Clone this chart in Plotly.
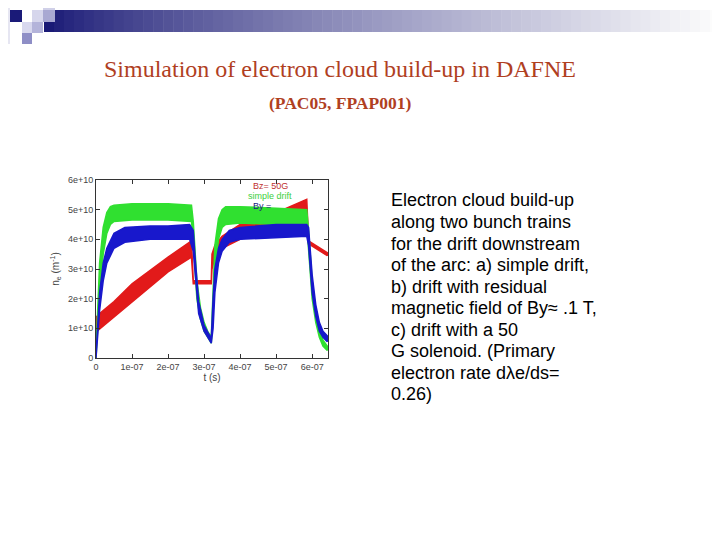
import plotly.graph_objects as go

# ---------------- data (t in units of 1e-7 s, n_e in units of 1e10 m^-1) ----------------
t_green = [0, 0.05, 0.1, 0.2, 0.3, 0.4, 0.5, 1.0, 2.0, 2.65, 2.7, 2.8, 2.9, 3.0, 3.1, 3.2,
           3.25, 3.3, 3.4, 3.5, 3.6, 4.0, 5.0, 5.85, 5.9, 6.0, 6.1, 6.2, 6.3, 6.42]
green_lo = [0, 1.2, 2.2, 3.5, 4.2, 4.5, 4.6, 4.65, 4.65, 4.6, 4.0, 2.0, 1.3, 0.9, 0.7, 0.5,
            1.5, 3.0, 4.0, 4.4, 4.5, 4.55, 4.5, 4.5, 3.5, 2.0, 1.2, 0.7, 0.4, 0.25]
green_hi = [0.2, 2.0, 3.2, 4.4, 4.9, 5.1, 5.15, 5.2, 5.2, 5.15, 4.6, 2.6, 1.7, 1.2, 0.9, 0.7,
            2.5, 3.8, 4.7, 5.0, 5.1, 5.1, 5.05, 5.0, 4.3, 2.6, 1.6, 1.0, 0.6, 0.4]

t_blue = [0, 0.05, 0.1, 0.2, 0.3, 0.5, 0.8, 1.5, 2.0, 2.6, 2.7, 2.75, 2.85, 3.0, 3.1, 3.2,
          3.25, 3.3, 3.4, 3.5, 3.7, 4.0, 5.0, 5.85, 5.9, 6.0, 6.1, 6.2, 6.3, 6.42]
blue_lo = [0, 0.8, 1.6, 2.6, 3.2, 3.7, 3.9, 4.0, 4.0, 4.0, 3.6, 2.8, 1.5, 0.9, 0.7, 0.5,
           1.0, 2.2, 3.2, 3.6, 3.9, 4.0, 4.05, 4.1, 3.8, 2.2, 1.4, 0.9, 0.7, 0.55]
blue_hi = [0.1, 1.3, 2.2, 3.2, 3.7, 4.2, 4.4, 4.45, 4.45, 4.5, 4.3, 3.4, 1.9, 1.1, 0.85, 0.65,
           2.0, 3.0, 3.7, 4.0, 4.3, 4.4, 4.5, 4.5, 4.4, 2.8, 1.8, 1.2, 0.9, 0.75]

t_red = [0, 0.02, 0.1, 0.5, 1.0, 2.0, 2.65, 2.7, 3.2, 3.22, 3.3, 3.5, 4.0, 5.0, 5.85, 5.9, 6.42]
red_lo = [0, 0.9, 1.0, 1.4, 1.9, 2.9, 3.4, 2.5, 2.5, 3.0, 3.4, 3.7, 4.0, 4.4, 4.8, 3.85, 3.45]
red_hi = [0.1, 1.4, 1.5, 1.9, 2.5, 3.4, 3.95, 2.6, 2.6, 3.5, 3.8, 4.1, 4.5, 4.9, 5.35, 3.95, 3.55]

x_tickvals = [0, 1, 2, 3, 4, 5, 6]
x_ticktext = ["0", "1e-07", "2e-07", "3e-07", "4e-07", "5e-07", "6e-07"]
y_tickvals = [0, 1, 2, 3, 4, 5, 6]
y_ticktext = ["0", "1e+10", "2e+10", "3e+10", "4e+10", "5e+10", "6e+10"]

series = [
    ("Bz= 50G", t_red, red_lo, red_hi, "#e21a1a"),
    ("simple drift", t_green, green_lo, green_hi, "#30e030"),
    ("By", t_blue, blue_lo, blue_hi, "#1818cc"),
]

title_text = "Simulation of electron cloud build-up in DAFNE"
subtitle_text = "(PAC05, FPAP001)"
body_lines = [
    "Electron cloud build-up",
    "along two bunch trains",
    "for the drift downstream",
    "of the arc: a) simple drift,",
    "b) drift with residual",
    "magnetic field of By\u2248 .1 T,",
    "c) drift with a 50",
    "G solenoid. (Primary",
    "electron rate d\u03bbe/ds=",
    "0.26)",
]

fig = go.Figure()
for name, t, lo, hi, col in series:
    fig.add_trace(go.Scatter(
        x=list(t) + list(t)[::-1], y=list(hi) + list(lo)[::-1],
        fill="toself", fillcolor=col, mode="lines",
        line=dict(color=col, width=1.5), name=name, showlegend=False,
        hoverinfo="skip"))

W, H = 720, 540
OFF = 8  # page body margin offset
def px(x): return (x - OFF) / W
def py(y): return 1 - (y - OFF) / H

# ---------------- slide decoration ----------------
shapes = []
x0, x1 = 44, 720
n = 68
for i in range(n):
    a = x0 + (x1 - x0) * i / n
    b = x0 + (x1 - x0) * (i + 1) / n + 0.5
    f = (i / (n - 1)) ** 0.8
    r = int(26 + (252 - 26) * f)
    g = int(26 + (252 - 26) * f)
    bb = int(118 + (252 - 118) * f)
    shapes.append(dict(type="rect", xref="paper", yref="paper",
                       x0=px(a), x1=px(b), y0=py(32), y1=py(10),
                       fillcolor=f"rgb({r},{g},{bb})", line=dict(width=0), layer="below"))
squares = [
    (0, 0, 10, 44, "#e6e6f2"),
    (10, 10, 22, 22, "#1a1a78"),
    (32, 10, 43, 22, "#d6d6ec"),
    (43, 0, 55, 10, "#d0d0e8"),
    (43, 10, 55, 22, "#a8a8d2"),
    (22, 22, 32, 33, "#d8d8ee"),
    (32, 22, 43, 33, "#b4b4da"),
    (22, 33, 32, 44, "#8e8ec6"),
]
for a, b, c, d, col in squares:
    shapes.append(dict(type="rect", xref="paper", yref="paper",
                       x0=px(a), x1=px(c), y0=py(d), y1=py(b),
                       fillcolor=col, line=dict(width=0), layer="below"))

annotations = [
    dict(text=title_text, x=px(340), y=py(69), xref="paper", yref="paper",
         showarrow=False, xanchor="center", yanchor="middle",
         font=dict(family="Liberation Serif", size=24, color="#b0401f")),
    dict(text="<b>" + subtitle_text + "</b>", x=px(340), y=py(103), xref="paper", yref="paper",
         showarrow=False, xanchor="center", yanchor="middle",
         font=dict(family="Liberation Serif", size=17.5, color="#b0401f")),
]
for i, line in enumerate(body_lines):
    annotations.append(dict(text=line, x=px(389), y=py(200.5 + 21.5 * i), xref="paper", yref="paper",
                            showarrow=False, xanchor="left", yanchor="middle",
                            font=dict(family="Liberation Sans", size=18, color="#000000")))
annotations += [
    dict(text="Bz= 50G", x=px(270), y=py(186), xref="paper", yref="paper", showarrow=False,
         xanchor="center", yanchor="middle", font=dict(family="Liberation Sans", size=9, color="#c03030")),
    dict(text="simple drift", x=px(270), y=py(196), xref="paper", yref="paper", showarrow=False,
         xanchor="center", yanchor="middle", font=dict(family="Liberation Sans", size=9, color="#40d040")),
    dict(text="By =", x=px(251), y=py(206), xref="paper", yref="paper", showarrow=False,
         xanchor="left", yanchor="middle", font=dict(family="Liberation Sans", size=9, color="#1a1a80")),
]

axis_common = dict(showline=True, linecolor="#333", linewidth=1, mirror="ticks",
                   ticks="inside", ticklen=4, tickcolor="#333", showgrid=False, zeroline=False,
                   tickfont=dict(family="Liberation Sans", size=9, color="#444"), automargin=False)

fig.update_layout(
    width=W, height=H, autosize=False,
    margin=dict(l=0, r=0, t=0, b=0),
    paper_bgcolor="white", plot_bgcolor="white",
    shapes=shapes, annotations=annotations,
    xaxis=dict(domain=[px(96), px(328)], range=[0, 6.44], tickvals=x_tickvals, ticktext=x_ticktext,
               title=dict(text="t (s)", font=dict(family="Liberation Sans", size=10, color="#444"), standoff=2),
               **axis_common),
    yaxis=dict(domain=[py(358), py(180)], range=[0, 6], tickvals=y_tickvals, ticktext=y_ticktext,
               title=dict(text="n<sub>e</sub> (m<sup>-1</sup>)", font=dict(family="Liberation Sans", size=10, color="#444"), standoff=6),
               **axis_common),
)

fig.write_html("out.html")
